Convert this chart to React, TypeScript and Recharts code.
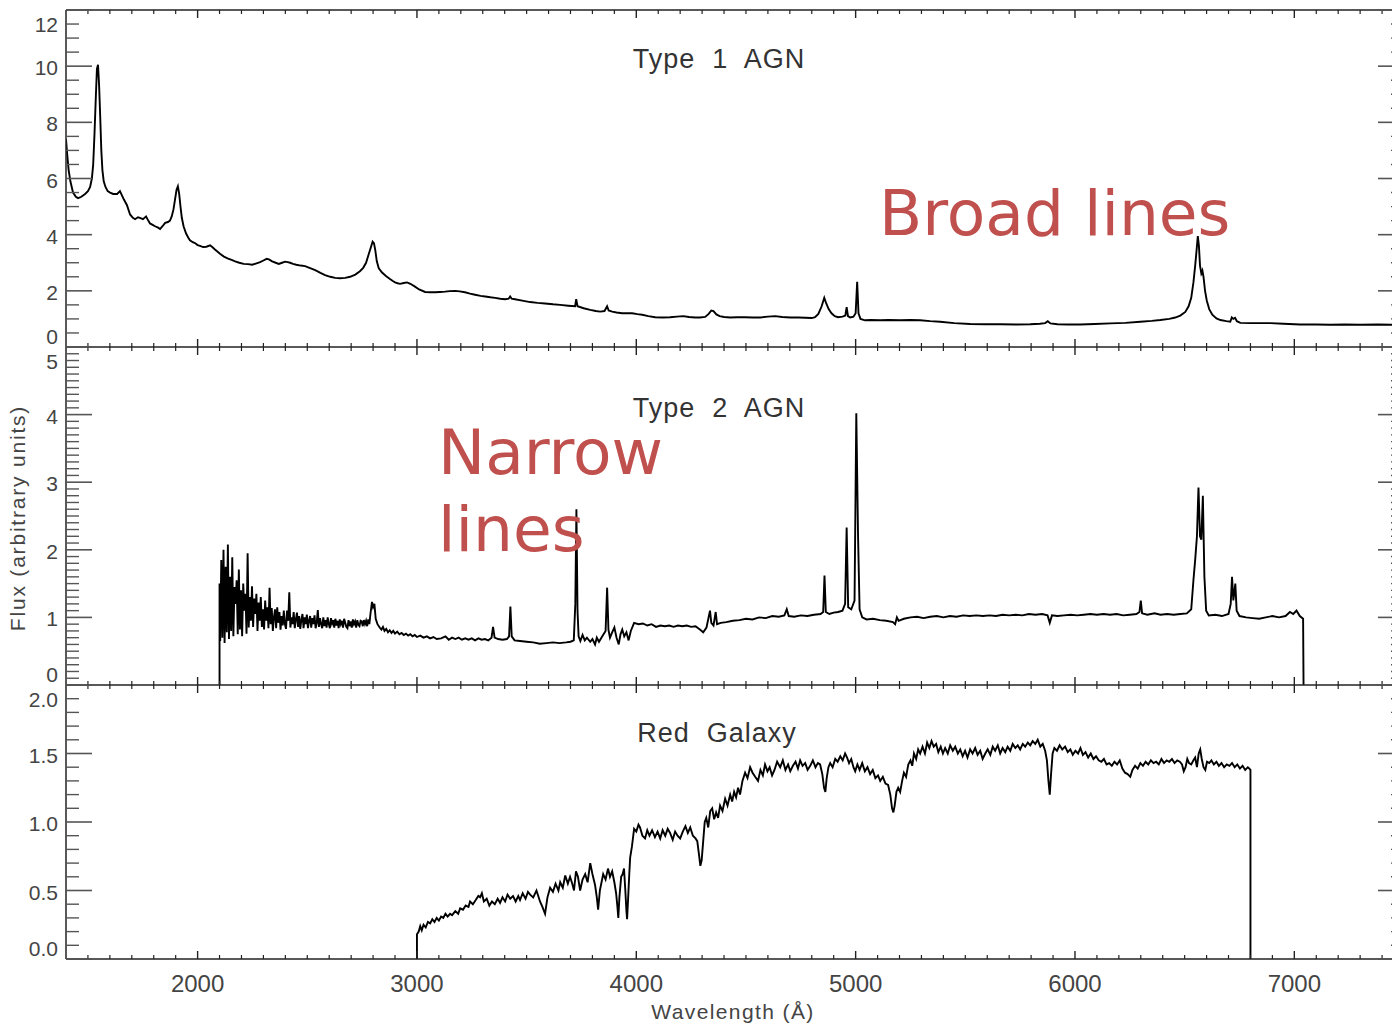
import React from 'react';
import { LineChart, Line, XAxis, YAxis, ReferenceLine } from 'recharts';

// Wavelength (Å) and flux
const type1Wave = [
  1400, 1405, 1412, 1420, 1432, 1445, 1455, 1470, 1487, 1500,
  1510, 1518, 1524, 1530, 1536, 1541, 1546, 1551, 1556, 1561,
  1566, 1572, 1580, 1590, 1601, 1615, 1633, 1646, 1655, 1664,
  1678, 1692, 1705, 1715, 1728, 1737, 1751, 1765, 1775, 1783,
  1795, 1806, 1820, 1829, 1840, 1852, 1865, 1874, 1882, 1890,
  1897, 1904, 1910, 1916, 1922, 1928, 1936, 1947, 1957, 1965,
  1978, 1988, 2000, 2011, 2025, 2040, 2057, 2068, 2079, 2090,
  2102, 2120, 2139, 2155, 2171, 2190, 2210, 2230, 2249, 2265,
  2285, 2300, 2315, 2325, 2340, 2356, 2370, 2385, 2399, 2410,
  2422, 2435, 2450, 2470, 2490, 2510, 2536, 2560, 2581, 2605,
  2627, 2650, 2673, 2695, 2719, 2740, 2755, 2768, 2780, 2790,
  2798, 2804, 2810, 2817, 2826, 2841, 2860, 2877, 2890, 2900,
  2912, 2923, 2940, 2955, 2970, 2991, 3010, 3037, 3060, 3082,
  3105, 3128, 3150, 3174, 3195, 3219, 3242, 3265, 3290, 3311,
  3335, 3356, 3380, 3402, 3418, 3425, 3432, 3447, 3480, 3516,
  3550, 3584, 3620, 3653, 3690, 3721, 3726, 3732, 3760, 3790,
  3815, 3835, 3855, 3867, 3874, 3890, 3910, 3935, 3960, 3981,
  4005, 4027, 4055, 4086, 4120, 4154, 4185, 4214, 4240, 4268,
  4290, 4314, 4330, 4342, 4352, 4365, 4380, 4400, 4428, 4460,
  4496, 4530, 4565, 4600, 4633, 4665, 4702, 4740, 4770, 4800,
  4815, 4830, 4845, 4857, 4866, 4877, 4890, 4905, 4920, 4940,
  4953, 4959, 4965, 4975, 4990, 5000, 5007, 5013, 5022, 5043,
  5070, 5112, 5150, 5203, 5250, 5294, 5340, 5385, 5450, 5522,
  5590, 5659, 5730, 5796, 5840, 5864, 5876, 5888, 5920, 5970,
  6024, 6090, 6161, 6230, 6298, 6350, 6389, 6430, 6457, 6480,
  6503, 6518, 6530, 6540, 6548, 6555, 6560, 6565, 6570, 6576,
  6581, 6586, 6593, 6601, 6612, 6626, 6645, 6663, 6690, 6708,
  6715, 6722, 6730, 6738, 6754, 6800, 6891, 6950, 7027, 7100,
  7164, 7230, 7301, 7380, 7447, 7500,
];
const type1Flux = [
  7.4, 6.9, 6.3, 5.9, 5.5, 5.35, 5.3, 5.35, 5.45, 5.55,
  5.7, 6.0, 6.5, 7.6, 8.9, 9.9, 10.05, 9.3, 8.2, 7.0,
  6.3, 5.9, 5.7, 5.55, 5.5, 5.45, 5.45, 5.55, 5.4, 5.25,
  5.05, 4.72, 4.6, 4.55, 4.62, 4.6, 4.55, 4.65, 4.5, 4.4,
  4.35, 4.3, 4.25, 4.2, 4.3, 4.42, 4.45, 4.5, 4.65, 4.9,
  5.25, 5.6, 5.72, 5.45, 5.0, 4.6, 4.3, 4.05, 3.9, 3.8,
  3.73, 3.7, 3.63, 3.6, 3.56, 3.57, 3.62, 3.55, 3.47, 3.4,
  3.32, 3.22, 3.15, 3.1, 3.05, 3.0, 2.96, 2.95, 2.93, 2.97,
  3.02, 3.08, 3.14, 3.12, 3.05, 3.0, 2.96, 3.0, 3.04, 3.02,
  3.0, 2.96, 2.93, 2.9, 2.88, 2.82, 2.74, 2.64, 2.56, 2.5,
  2.46, 2.45, 2.46, 2.5, 2.58, 2.7, 2.82, 3.0, 3.3, 3.55,
  3.75, 3.7, 3.45, 3.05, 2.8, 2.65, 2.52, 2.42, 2.35, 2.3,
  2.27, 2.25, 2.28, 2.3, 2.25, 2.15, 2.05, 1.96, 1.95, 1.95,
  1.96, 1.97, 1.99, 2.0, 1.98, 1.95, 1.9, 1.86, 1.82, 1.8,
  1.77, 1.75, 1.72, 1.7, 1.72, 1.8, 1.72, 1.7, 1.65, 1.6,
  1.57, 1.55, 1.52, 1.5, 1.47, 1.45, 1.7, 1.45, 1.38, 1.32,
  1.28, 1.26, 1.28, 1.45, 1.3, 1.26, 1.23, 1.2, 1.2, 1.2,
  1.17, 1.15, 1.1, 1.06, 1.05, 1.06, 1.08, 1.1, 1.07, 1.05,
  1.05, 1.07, 1.18, 1.3, 1.28, 1.16, 1.1, 1.07, 1.05, 1.06,
  1.06, 1.05, 1.05, 1.08, 1.1, 1.07, 1.05, 1.05, 1.04, 1.03,
  1.06, 1.18, 1.45, 1.75, 1.55, 1.35, 1.2, 1.1, 1.06, 1.08,
  1.12, 1.42, 1.1, 1.05, 1.08, 1.2, 2.32, 1.2, 1.0, 0.95,
  0.96, 0.95, 0.96, 0.95, 0.96, 0.95, 0.92, 0.9, 0.85, 0.82,
  0.81, 0.81, 0.8, 0.81, 0.83, 0.85, 0.92, 0.84, 0.81, 0.8,
  0.8, 0.82, 0.84, 0.86, 0.9, 0.93, 0.96, 1.0, 1.05, 1.12,
  1.25, 1.45, 1.75, 2.3, 2.9, 3.5, 3.95, 3.6, 2.9, 2.62,
  2.72, 2.5, 2.0, 1.65, 1.35, 1.15, 1.02, 0.96, 0.92, 0.9,
  1.05, 1.0, 1.04, 0.92, 0.86, 0.85, 0.85, 0.83, 0.8, 0.8,
  0.79, 0.8, 0.79, 0.8, 0.79, 0.8,
];

const type2Wave = [
  2100, 2100,
  2103, 2108, 2113, 2118, 2123, 2128, 2133, 2138, 2143, 2148,
  2153, 2158, 2163, 2168, 2173, 2178, 2183, 2188, 2193, 2198,
  2203, 2208, 2213, 2218, 2223, 2228, 2233, 2238, 2243, 2248,
  2253, 2258, 2263, 2268, 2273, 2278, 2283, 2288, 2293, 2298,
  2303, 2308, 2313, 2318, 2323, 2328, 2333, 2338, 2343, 2348,
  2353, 2358, 2363, 2368, 2373, 2378, 2383, 2388, 2393, 2398,
  2403, 2408, 2413, 2418, 2423, 2428, 2433, 2438, 2443, 2448,
  2453, 2458, 2463, 2468, 2473, 2478, 2483, 2488, 2493, 2498,
  2503, 2508, 2513, 2518, 2523, 2528, 2533, 2538, 2543, 2548,
  2553, 2558, 2563, 2568, 2573, 2578, 2583, 2588, 2593, 2598,
  2603, 2608, 2613, 2618, 2623, 2628, 2633, 2638, 2643, 2648,
  2653, 2658, 2663, 2668, 2673, 2678, 2683, 2688, 2693, 2698,
  2703, 2708, 2713, 2718, 2723, 2728, 2733, 2738, 2743, 2748,
  2753, 2758, 2763, 2768, 2773, 2778, 2783, 2788,
  2795, 2800, 2806, 2812, 2820, 2830, 2838, 2845, 2852, 2860,
  2868, 2876, 2884, 2892, 2900, 2910, 2920, 2930, 2940, 2950,
  2960, 2970, 2980, 2990, 3000, 3015, 3030, 3045, 3060, 3075,
  3090, 3110, 3130, 3145, 3160, 3175, 3190, 3205, 3220, 3235,
  3250, 3265, 3280, 3295, 3310, 3325, 3340, 3347, 3354, 3370,
  3390, 3410,
  3420, 3426, 3432, 3445, 3470, 3500, 3530, 3560, 3590, 3620,
  3650, 3680, 3700, 3715, 3722, 3727, 3732, 3737, 3745, 3755,
  3765, 3775, 3790, 3800, 3812, 3820, 3830, 3845, 3860, 3867,
  3873, 3880, 3890, 3900, 3910, 3920, 3928, 3936, 3945, 3955,
  3965, 3975, 3990, 4010, 4030, 4050, 4070, 4090, 4110, 4130,
  4150, 4170, 4190, 4210, 4230, 4250, 4270, 4290, 4305, 4320,
  4336, 4342, 4352, 4362, 4368, 4385, 4410, 4440, 4470, 4500,
  4530, 4560, 4590, 4620, 4650, 4675, 4686, 4695, 4720, 4750,
  4780, 4810, 4840, 4852, 4858, 4864, 4880, 4900, 4920, 4940,
  4952, 4959, 4966, 4980, 4995, 5003, 5011, 5018, 5030, 5050,
  5080, 5110, 5140, 5170, 5180, 5188, 5196, 5220, 5250, 5280,
  5310, 5340, 5370, 5400, 5430, 5460, 5490, 5520, 5550, 5580,
  5610, 5640, 5670, 5700, 5730, 5760, 5790, 5820, 5850, 5875,
  5885, 5895, 5920, 5950, 5980, 6010, 6040, 6070, 6100, 6130,
  6160, 6190, 6220, 6250, 6280, 6294, 6300, 6306, 6330, 6363,
  6390, 6420, 6450, 6480, 6510, 6530, 6540, 6548, 6556, 6563,
  6570, 6576, 6583, 6590, 6598, 6610, 6640, 6670, 6700, 6710,
  6716, 6722, 6731, 6737, 6750, 6780, 6810, 6840, 6870, 6900,
  6930, 6960, 6980, 6995, 7010, 7025, 7040, 7042,
];
const type2Flux = [
  0, 1.5,
  0.65, 1.85, 0.7, 2.0, 0.62, 1.75, 0.78, 2.08, 0.68, 1.6,
  0.8, 1.89, 0.72, 1.45, 1.2, 1.55, 0.75, 1.71, 0.82, 1.4,
  0.72, 1.5, 1.1, 1.35, 0.76, 1.95, 0.85, 1.3, 0.95, 1.46,
  0.86, 1.28, 1.05, 1.35, 0.8, 1.22, 0.95, 1.3, 0.86, 1.12,
  0.82, 1.25, 0.95, 1.15, 0.84, 1.44, 0.9, 1.14, 0.8, 1.0,
  1.12, 0.84, 1.15, 0.92, 1.08, 0.82, 1.02, 0.88, 1.1, 0.9,
  0.83, 1.1, 0.95, 1.37, 0.85, 1.0, 0.9, 1.08, 0.84, 0.97,
  1.07, 0.86, 1.02, 0.83, 0.96, 1.05, 0.84, 1.0, 0.9, 1.04,
  0.84, 0.95, 1.02, 0.85, 0.99, 0.9, 1.03, 0.84, 0.92, 1.11,
  0.86, 0.99, 0.9, 0.84, 1.0, 0.87, 0.96, 0.85, 1.0, 0.9,
  0.84, 0.99, 0.91, 0.96, 0.85, 0.98, 0.88, 0.95, 0.84, 0.97,
  0.9, 0.95, 0.85, 0.98, 0.92, 0.86, 0.84, 0.96, 0.87, 0.94,
  0.85, 0.97, 0.9, 0.94, 0.85, 0.96, 0.89, 0.87, 0.95, 0.94,
  0.87, 0.96, 0.9, 0.95, 0.87, 0.97, 0.9, 1.05,
  1.23, 1.15, 1.2, 0.98, 0.9, 0.85, 0.82, 0.86, 0.8, 0.83,
  0.78, 0.81, 0.77, 0.8, 0.76, 0.79, 0.75, 0.77, 0.74, 0.76,
  0.73, 0.75, 0.72, 0.74, 0.71, 0.73, 0.7, 0.72, 0.69, 0.71,
  0.68, 0.69, 0.72, 0.67, 0.7, 0.68, 0.7, 0.67, 0.69, 0.67,
  0.69, 0.66, 0.69, 0.67, 0.68, 0.66, 0.7, 0.86, 0.7, 0.68,
  0.67, 0.68,
  0.72, 1.16, 0.72, 0.66, 0.65, 0.64, 0.63, 0.61, 0.62, 0.63,
  0.62, 0.63, 0.64, 0.66, 1.2, 2.6, 1.1, 0.72, 0.65, 0.74,
  0.66, 0.7, 0.64, 0.68, 0.6, 0.7, 0.64, 0.72, 0.8, 1.44,
  0.82, 0.7, 0.78, 0.85, 0.7, 0.6, 0.75, 0.82, 0.72, 0.78,
  0.66, 0.8, 0.92, 0.9, 0.91, 0.88, 0.9, 0.86, 0.88, 0.87,
  0.88, 0.86, 0.88, 0.87, 0.88, 0.86, 0.87, 0.82, 0.78, 0.85,
  1.1, 0.92, 0.88, 1.08, 0.9, 0.92, 0.93, 0.95, 0.96, 0.98,
  0.97, 1.0, 0.99, 1.02, 1.01, 1.03, 1.12, 1.02, 1.01, 1.03,
  1.02, 1.04, 1.05, 1.08, 1.62, 1.08, 1.05, 1.07, 1.08, 1.1,
  1.2, 2.33, 1.15, 1.12, 1.25, 4.02, 2.2, 1.12, 1.0, 0.97,
  0.98, 0.96, 0.95, 0.93, 0.9, 1.0, 0.95, 0.98, 1.0, 1.01,
  0.99, 1.01, 1.02, 1.0, 1.02, 1.01, 1.03, 1.02, 1.03, 1.02,
  1.03, 1.02, 1.04, 1.03, 1.04, 1.03, 1.05, 1.04, 1.05, 1.03,
  0.92, 1.03, 1.02, 1.03, 1.04, 1.03, 1.04, 1.05, 1.04, 1.05,
  1.04, 1.05, 1.03, 1.04, 1.05, 1.08, 1.25, 1.06, 1.04, 1.06,
  1.04, 1.05, 1.04, 1.05, 1.06, 1.12, 1.55, 1.85, 2.2, 2.92,
  2.2, 2.15, 2.8, 1.6, 1.1, 1.03, 1.04, 1.02, 1.05, 1.2,
  1.6, 1.25, 1.5, 1.1, 1.02, 1.0, 0.99, 0.98, 1.0, 1.02,
  1.0, 1.02, 1.08, 1.05, 1.1, 1.02, 0.98, 0,
];

const redWave = [
  3000, 3000, 3008, 3015, 3022, 3030, 3040, 3050, 3060, 3070,
  3080, 3090, 3100, 3110, 3120, 3130, 3140, 3151, 3160, 3175,
  3188, 3197, 3210, 3222, 3235, 3242, 3255, 3268, 3280, 3288,
  3296, 3305, 3318, 3330, 3342, 3355, 3368, 3379, 3390, 3402,
  3413, 3425, 3438, 3450, 3462, 3470, 3482, 3495, 3506, 3516,
  3530, 3545, 3561, 3572, 3584, 3595, 3607, 3620, 3632, 3645,
  3653, 3665, 3676, 3688, 3698, 3708, 3716, 3725, 3734, 3744,
  3755, 3767, 3778, 3790, 3800, 3812, 3820, 3826, 3834, 3849,
  3860, 3871, 3880, 3890, 3900, 3908, 3914, 3918, 3923, 3931,
  3938, 3944, 3950, 3955, 3958, 3963, 3968, 3972, 3980, 3990,
  4000, 4010, 4017, 4028, 4040, 4050, 4060, 4072, 4085, 4097,
  4109, 4120, 4132, 4143, 4154, 4166, 4177, 4188, 4200, 4212,
  4224, 4235, 4246, 4258, 4270, 4278, 4286, 4292, 4298, 4305,
  4312, 4319, 4328, 4337, 4346, 4355, 4364, 4373, 4382, 4393,
  4405, 4416, 4428, 4437, 4446, 4455, 4464, 4473, 4484, 4496,
  4507, 4519, 4530, 4542, 4555, 4566, 4577, 4587, 4598, 4608,
  4619, 4630, 4642, 4656, 4668, 4680, 4692, 4702, 4714, 4726,
  4737, 4747, 4758, 4770, 4781, 4793, 4805, 4817, 4828, 4838,
  4848, 4856, 4862, 4868, 4876, 4884, 4895, 4907, 4918, 4930,
  4941, 4952, 4961, 4970, 4980, 4990, 4998, 5008, 5018, 5030,
  5042, 5054, 5066, 5078, 5090, 5102, 5112, 5124, 5136, 5148,
  5158, 5166, 5172, 5178, 5186, 5194, 5203, 5212, 5220, 5230,
  5240, 5250, 5258, 5266, 5276, 5285, 5294, 5305, 5316, 5326,
  5336, 5346, 5356, 5367, 5377, 5388, 5398, 5408, 5420, 5431,
  5443, 5454, 5466, 5477, 5488, 5499, 5510, 5522, 5533, 5545,
  5556, 5568, 5579, 5591, 5602, 5614, 5625, 5636, 5648, 5659,
  5670, 5682, 5693, 5705, 5716, 5728, 5739, 5750, 5762, 5773,
  5785, 5796, 5807, 5819, 5830, 5842, 5853, 5864, 5872, 5879,
  5885, 5891, 5898, 5906, 5918, 5930, 5942, 5955, 5967, 5979,
  5990, 6002, 6014, 6025, 6036, 6048, 6060, 6072, 6084, 6096,
  6108, 6120, 6132, 6144, 6156, 6168, 6180, 6192, 6204, 6216,
  6228, 6240, 6252, 6262, 6274, 6286, 6298, 6310, 6322, 6334,
  6346, 6358, 6370, 6382, 6394, 6406, 6418, 6430, 6442, 6454,
  6466, 6478, 6488, 6496, 6504, 6512, 6520, 6530, 6540, 6548,
  6556, 6564, 6571, 6578, 6586, 6594, 6602, 6612, 6622, 6633,
  6645, 6656, 6668, 6680, 6692, 6704, 6716, 6728, 6740, 6752,
  6764, 6776, 6788, 6795, 6800, 6800,
];
const redFlux = [
  0, 0.18, 0.2, 0.24, 0.21, 0.25, 0.23, 0.27, 0.26, 0.29,
  0.27, 0.3, 0.28, 0.31, 0.3, 0.33, 0.31, 0.33, 0.32, 0.35,
  0.33, 0.37, 0.36, 0.39, 0.38, 0.42, 0.4, 0.43, 0.46, 0.45,
  0.48, 0.42, 0.44, 0.39, 0.42, 0.4, 0.44, 0.41, 0.45, 0.42,
  0.47, 0.44, 0.46, 0.42, 0.46, 0.43, 0.48, 0.44, 0.49, 0.47,
  0.45, 0.5, 0.42, 0.38, 0.33, 0.45, 0.52, 0.49, 0.55, 0.5,
  0.56, 0.52, 0.61, 0.55, 0.6, 0.55, 0.5, 0.64, 0.6, 0.5,
  0.58, 0.62, 0.56, 0.7, 0.62, 0.54, 0.45, 0.36, 0.5, 0.62,
  0.58, 0.66, 0.6, 0.64, 0.56, 0.48, 0.38, 0.3, 0.45, 0.6,
  0.62, 0.66, 0.5, 0.35, 0.29, 0.45, 0.62, 0.74, 0.82, 0.95,
  0.93, 0.98, 0.96, 0.9, 0.88, 0.94, 0.9, 0.94, 0.89, 0.93,
  0.88, 0.94, 0.9, 0.95, 0.92, 0.87, 0.93, 0.9, 0.88, 0.93,
  0.97, 0.92, 0.96, 0.9, 0.88, 0.86, 0.76, 0.68, 0.72, 0.86,
  1.0, 1.03, 0.96, 1.08, 1.1, 1.02, 1.07, 1.03, 1.12, 1.08,
  1.17, 1.12, 1.2, 1.15, 1.22, 1.18, 1.25, 1.2, 1.3, 1.36,
  1.32, 1.4, 1.36, 1.33, 1.3, 1.38, 1.34, 1.42, 1.37, 1.4,
  1.34, 1.38, 1.44, 1.4, 1.45, 1.38, 1.42, 1.37, 1.41, 1.44,
  1.39, 1.45, 1.41, 1.43, 1.38, 1.41, 1.45, 1.4, 1.43, 1.42,
  1.35, 1.25, 1.22, 1.32, 1.4, 1.43, 1.4, 1.46, 1.44, 1.48,
  1.45, 1.5, 1.47, 1.43, 1.46, 1.4, 1.37, 1.42, 1.38, 1.43,
  1.37, 1.4, 1.35, 1.38, 1.32, 1.34, 1.3, 1.33, 1.28, 1.27,
  1.2, 1.1, 1.07, 1.12, 1.22, 1.25, 1.22, 1.3, 1.36, 1.33,
  1.42, 1.45, 1.41, 1.5, 1.46, 1.53, 1.5, 1.55, 1.5, 1.58,
  1.54, 1.59, 1.55, 1.57, 1.51, 1.55, 1.5, 1.54, 1.5, 1.56,
  1.52, 1.55, 1.5, 1.53, 1.48, 1.52, 1.47, 1.53, 1.5, 1.54,
  1.49, 1.52, 1.46, 1.5, 1.53, 1.49, 1.55, 1.52, 1.56, 1.5,
  1.54, 1.51, 1.55, 1.52, 1.57, 1.54, 1.56, 1.53, 1.57, 1.55,
  1.58, 1.56, 1.59, 1.57, 1.6, 1.55, 1.57, 1.52, 1.45, 1.3,
  1.2, 1.35, 1.5, 1.54, 1.52, 1.56, 1.53, 1.55, 1.51, 1.53,
  1.49, 1.52, 1.5, 1.54, 1.49, 1.51, 1.47, 1.5, 1.46, 1.48,
  1.45, 1.44, 1.46, 1.42, 1.43, 1.41, 1.44, 1.42, 1.45, 1.39,
  1.36, 1.35, 1.33, 1.38, 1.41, 1.39, 1.43, 1.41, 1.44, 1.42,
  1.45, 1.43, 1.44, 1.42, 1.46, 1.43, 1.45, 1.44, 1.46, 1.43,
  1.45, 1.44, 1.42, 1.37, 1.4, 1.46, 1.43, 1.42, 1.45, 1.47,
  1.4, 1.5, 1.53, 1.46, 1.4, 1.38, 1.44, 1.43, 1.45, 1.42,
  1.44, 1.41, 1.43, 1.4, 1.42, 1.41, 1.43, 1.4, 1.42, 1.39,
  1.41, 1.38, 1.4, 1.39, 1.38, 0,
];

const panelTitles = ['Type  1  AGN', 'Type  2  AGN', 'Red  Galaxy'];
const xMajor = [2000, 3000, 4000, 5000, 6000, 7000];
const X_DOMAIN: [number, number] = [1400, 7500];

const PLOT_LEFT = 66;
const PLOT_W = 1338;
const CHART_W = 1420;
const FONT = '"Liberation Sans", Arial, sans-serif';
const AXIS = '#222';
const TICK = '#555';
const LABEL = '#444';

const toRows = (w: number[], f: number[]) => w.map((x, i) => ({ w: x, f: f[i] }));

const steps = (from: number, to: number, step: number) => {
  const out: number[] = [];
  const n = Math.round((to - from) / step);
  for (let i = 0; i <= n; i++) out.push(Math.round((from + i * step) * 1000) / 1000);
  return out;
};

const xTicks = steps(1500, 7400, 100);

const makeXTick = (plotH: number, labels: boolean) => (props: any) => {
  const { x, y, payload } = props;
  const v = payload.value;
  const major = xMajor.includes(v);
  const len = major ? 8 : 4;
  return (
    <g>
      <line x1={x} x2={x} y1={y} y2={y - len} stroke={AXIS} strokeWidth={major ? 1.4 : 1.2} />
      <line x1={x} x2={x} y1={y - plotH} y2={y - plotH + len} stroke={AXIS} strokeWidth={major ? 1.4 : 1.2} />
      {labels && major && (
        <text x={x} y={y + 33} textAnchor="middle" fontFamily={FONT} fontSize={24} fill={LABEL}>
          {v}
        </text>
      )}
    </g>
  );
};

const makeYTick = (majorStep: number, yMax: number, fmt: (v: number) => string) => (props: any) => {
  const { x, y, payload } = props;
  const v = payload.value;
  const major = Math.abs(v / majorStep - Math.round(v / majorStep)) < 1e-6;
  const len = major ? 26 : 13;
  // labels at the panel edges are pushed inside their own panel
  let dy = 9;
  if (v === 0) dy = -3;
  if (Math.abs(v - yMax) < 1e-6) dy = 22;
  return (
    <g>
      <line x1={x} x2={x + len} y1={y} y2={y} stroke={TICK} strokeWidth={major ? 1.6 : 1.4} />
      <line x1={x + PLOT_W - len} x2={x + PLOT_W} y1={y} y2={y} stroke={TICK} strokeWidth={major ? 1.6 : 1.4} />
      {major && (
        <text x={x - 8} y={y + dy} textAnchor="end" fontFamily={FONT} fontSize={21} fill={LABEL}>
          {fmt(v)}
        </text>
      )}
    </g>
  );
};

interface PanelProps {
  data: { w: number; f: number }[];
  top: number;
  height: number;
  plotH: number;
  xAxisH: number;
  yMax: number;
  minorStep: number;
  majorStep: number;
  fmt: (v: number) => string;
  labels: boolean;
  topBorder: boolean;
}

const Panel: React.FC<PanelProps> = ({ data, top, height, plotH, xAxisH, yMax, minorStep, majorStep, fmt, labels, topBorder }) => (
  <div style={{ position: 'absolute', left: 0, top }}>
    <LineChart width={CHART_W} height={height} data={data} margin={{ top: 10, right: CHART_W - PLOT_LEFT - PLOT_W, left: 0, bottom: 0 }}>
      <XAxis
        dataKey="w"
        type="number"
        domain={X_DOMAIN}
        allowDataOverflow
        ticks={xTicks}
        interval={0}
        height={xAxisH}
        tickSize={0}
        tickMargin={0}
        tickLine={false}
        axisLine={{ stroke: AXIS, strokeWidth: 1.5 }}
        tick={makeXTick(plotH, labels)}
      />
      <YAxis
        type="number"
        domain={[0, yMax]}
        allowDataOverflow
        ticks={steps(0, yMax, minorStep)}
        interval={0}
        width={PLOT_LEFT}
        tickSize={0}
        tickMargin={0}
        tickLine={false}
        axisLine={{ stroke: AXIS, strokeWidth: 1.5 }}
        tick={makeYTick(majorStep, yMax, fmt)}
      />
      {topBorder && <ReferenceLine y={yMax} stroke={AXIS} strokeWidth={1.5} />}
      <ReferenceLine x={X_DOMAIN[1]} stroke={AXIS} strokeWidth={1.5} />
      <Line type="linear" dataKey="f" stroke="#000" strokeWidth={1.9} dot={false} isAnimationActive={false} />
    </LineChart>
  </div>
);

const App: React.FC = () => {
  const titleStyle = { fontFamily: FONT, fontSize: 27, fill: '#333', letterSpacing: 1, whiteSpace: 'pre' as const };
  const noteStyle = { fontFamily: '"DejaVu Sans", sans-serif', fontSize: 63, fill: '#c0504d' };
  return (
    <div style={{ position: 'absolute', left: 0, top: 0, width: 1392, height: 1024, overflow: 'hidden', background: '#fff' }}>
      <Panel data={toRows(type1Wave, type1Flux)} top={0} height={357} plotH={337} xAxisH={10}
        yMax={12} minorStep={0.5} majorStep={2} fmt={(v) => String(v)} labels={false} topBorder />
      <Panel data={toRows(type2Wave, type2Flux)} top={337} height={358} plotH={338} xAxisH={10}
        yMax={5} minorStep={0.1} majorStep={1} fmt={(v) => String(v)} labels={false} topBorder={false} />
      <Panel data={toRows(redWave, redFlux)} top={675} height={349} plotH={274} xAxisH={65}
        yMax={2} minorStep={0.1} majorStep={0.5} fmt={(v) => v.toFixed(1)} labels topBorder={false} />
      <svg width={1392} height={1024} style={{ position: 'absolute', left: 0, top: 0, pointerEvents: 'none' }}>
        <text x={719} y={68} textAnchor="middle" style={titleStyle}>{panelTitles[0]}</text>
        <text x={719} y={417} textAnchor="middle" style={titleStyle}>{panelTitles[1]}</text>
        <text x={717} y={742} textAnchor="middle" style={titleStyle}>{panelTitles[2]}</text>
        <text x={879} y={235} style={noteStyle}>Broad lines</text>
        <text x={438} y={474} style={noteStyle}>Narrow</text>
        <text x={438} y={551} style={noteStyle}>lines</text>
        <text x={0} y={0} transform="translate(25 518) rotate(-90)" textAnchor="middle" fontFamily={FONT} fontSize={21} letterSpacing={1.8} fill={LABEL}>
          Flux (arbitrary units)
        </text>
        <text x={733} y={1019} textAnchor="middle" fontFamily={FONT} fontSize={21} letterSpacing={1.4} fill={LABEL}>
          Wavelength (Å)
        </text>
      </svg>
    </div>
  );
};

export default App;
